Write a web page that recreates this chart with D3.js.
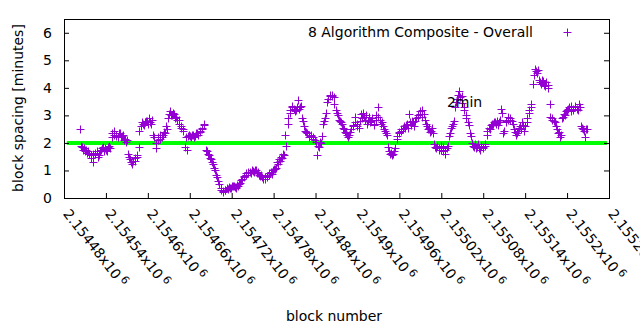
<!DOCTYPE html>
<html>
<head>
<meta charset="utf-8">
<script src="https://cdn.jsdelivr.net/npm/d3@7"></script>
<style>
  html, body { margin: 0; padding: 0; background: #fff; }
  svg { display: block; }
  text { font-family: "DejaVu Sans", sans-serif; fill: #000; }
</style>
</head>
<body>
<svg id="chart" width="640" height="330"></svg>
<script>
// ---- data ----
const seriesName = "8 Algorithm Composite - Overall";
const firstBlock = 2154503;   // first plotted block
const blockStep = 3;          // blocks between listed samples
// samples at firstBlock + 3*i
const spacingA = [
  2.5, 1.85, 1.8, 1.75, 1.7, 1.45, 1.3, 1.6, 1.7, 1.55,
  1.75, 1.85, 1.8, 1.7, 1.9, 2.2, 2.45, 2.3, 2.2, 2.35,
  2.25, 2.1, 2.05, 1.6, 1.4, 1.25, 1.35, 1.55, 1.85, 2.6,
  2.7, 2.75, 2.8, 2.9, 2.7, 2.3, 1.8, 2.1, 2.3, 2.2,
  2.4, 2.6, 2.9, 3.15, 3.0, 3.05, 2.95, 2.85, 2.6, 2.5,
  1.85, 1.75, 2.3, 2.2, 2.3, 2.25, 2.35, 2.4, 2.5, 2.65,
  1.75, 1.6, 1.45, 1.3, 1.1, 0.85, 0.6, 0.35, 0.22, 0.3,
  0.35, 0.4, 0.35, 0.42, 0.4, 0.48, 0.5, 0.65, 0.75, 0.85,
  0.9, 0.95, 1.0, 0.95, 1.0, 0.95, 0.8, 0.75, 0.7, 0.8,
  0.85, 0.95, 1.0, 1.05, 1.3, 1.4, 1.5, 1.6, 2.3, 2.7,
  3.1, 3.3, 3.25, 3.2, 3.55, 3.3, 2.9, 2.6, 2.4, 2.3,
  2.25, 2.15, 2.1, 1.55, 1.85, 2.0, 2.7, 2.9, 3.5, 3.75,
  3.7, 3.65, 3.2, 3.0, 2.8, 2.7, 2.5, 2.35, 2.2, 2.4,
  2.6, 2.95, 2.7, 2.55, 3.05, 3.1, 2.85, 2.7, 2.95, 2.8,
  2.65, 3.0, 3.3, 2.85, 2.75, 2.5, 2.35, 1.85, 1.6, 1.55,
  1.7, 2.15, 2.35, 2.45, 2.5, 2.55, 2.7, 3.05, 2.65, 2.75,
  2.8, 3.0, 3.15, 3.2, 3.05, 2.7, 2.5, 2.4, 2.55, 1.95,
  1.8, 1.75, 1.9, 1.7, 1.6, 1.8, 2.25, 2.55, 2.7, 3.3,
  3.6, 3.9, 3.7, 3.2, 3.0, 2.75, 2.35, 2.0, 1.85, 1.8,
  1.95, 1.75, 1.85, 1.9, 2.3, 2.55, 2.65, 2.7, 2.75, 2.8,
  2.75, 3.25, 2.35, 2.8, 2.95, 2.85, 2.8, 2.5, 2.3, 2.45,
  2.6, 2.75, 2.45, 2.9, 3.2, 3.4, 4.15, 4.7, 4.55, 4.3,
  4.15, 4.25, 4.05, 4.1, 3.4, 2.9, 2.8, 2.6, 2.35, 2.2,
  2.9, 3.05, 3.15, 3.25, 3.35, 3.2, 3.3, 3.25, 3.4, 2.6,
  2.5, 2.2, 2.5
];
// samples at firstBlock + 3*i + 1
const spacingB = [
  1.9,
  1.75, 1.7, 1.65, 1.6, 1.55, 1.6, 1.65, 1.5, 1.7, 1.8, 1.7, 1.75, 1.85, 1.8,
  2.35, 2.3, 2.25, 2.35, 2.2, 2.3, 2.15, 2.1,
  1.5, 1.3, 1.35, 1.45, 1.5, 2.45,
  2.75, 2.65, 2.8, 2.7, 2.75, 2.85, 2.2,
  2.0, 2.2, 2.15, 2.3, 2.35, 2.5,
  3.05, 3.0, 3.1, 2.9, 2.85, 2.7, 2.55, 2.45,
  2.2, 2.25, 2.25, 2.3, 2.2, 2.35, 2.3, 2.45, 2.55, 2.7,
  1.7, 1.55, 1.4, 1.25, 1.0, 0.75, 0.5, 0.3, 0.25,
  0.28, 0.32, 0.38, 0.42, 0.45, 0.38, 0.45, 0.55, 0.7, 0.8, 0.9, 0.95, 0.92, 0.98, 1.0,
  0.9, 0.85, 0.85, 0.7, 0.75, 0.78, 0.9, 0.88, 1.05, 1.1, 1.25, 1.35, 1.45, 1.55,
  1.9, 2.9, 3.2, 3.35, 3.15, 3.3, 3.25, 3.35, 2.8, 2.45, 2.35, 2.2, 2.3, 2.2, 2.05,
  1.9, 2.05, 2.25, 2.8, 3.1, 3.6, 3.7, 3.75, 3.4, 3.1, 2.85, 2.75, 2.55, 2.4, 2.3,
  2.3, 2.5, 2.65, 2.75, 2.6, 2.8, 2.9, 2.95, 3.0, 2.8, 2.75, 2.9, 2.7, 2.85, 2.95, 2.7, 2.6, 2.45, 2.3,
  1.7, 1.65, 1.6, 1.8,
  2.25, 2.4, 2.5, 2.6, 2.65, 2.55, 2.75, 2.8, 2.6, 2.9, 2.95, 3.05, 2.95, 2.85, 2.6, 2.55, 2.45, 2.35,
  1.85, 1.9, 1.8, 1.75, 1.85, 1.75, 1.9,
  2.35, 2.6, 2.8, 3.5, 3.75, 3.65, 3.45, 3.3, 2.9, 2.65, 2.25,
  1.9, 1.95, 1.85, 1.8, 1.9, 1.8, 1.95,
  2.45, 2.5, 2.7, 2.75, 2.7, 2.65, 2.85, 3.1, 2.45, 2.75, 2.85, 2.9, 2.7, 2.4, 2.35, 2.55, 2.5, 2.65, 2.6,
  2.75, 3.1, 3.3, 4.45, 4.6, 4.65, 4.2, 4.3, 4.1, 4.2, 4.0,
  2.95, 2.85, 2.75, 2.5, 2.4, 2.3,
  2.95, 3.0, 3.2, 3.3, 3.15, 3.25, 3.35, 3.2, 3.3,
  2.55, 2.45, 2.5
];
const targetBlocks = [2154484, 2155257];
const targetValue = 2;
const targetLabel = "2min";
const targetLabelBlock = 2155028;
const targetLabelValue = 3.5;
const xTickMantissas = ["2.15448","2.15454","2.1546","2.15466","2.15472","2.15478","2.15484",
                        "2.1549","2.15496","2.15502","2.15508","2.15514","2.1552","2.15526"];
const xTickExponent = "6";
const yTicks = [0, 1, 2, 3, 4, 5, 6];
const xTitle = "block number";
const yTitle = "block spacing [minutes]";

// ---- chart ----
const svg = d3.select("#chart");
const L = 64, R = 609, T = 19, B = 198;
const xTickValues = xTickMantissas.map(m => Math.round(+m * 1e6));
const x = d3.scaleLinear().domain([xTickValues[0], xTickValues[xTickValues.length - 1]]).range([L, R]);
const y = d3.scaleLinear().domain([0, 6.5]).range([B, T]);
const purple = "#9400d3";

const points = spacingA.map((v, i) => ({ block: firstBlock + i * blockStep, v }))
  .concat(spacingB.map((v, i) => ({ block: firstBlock + i * blockStep + 1, v })))
  .sort((a, b) => a.block - b.block);

// target line
svg.append("line")
  .attr("x1", x(targetBlocks[0])).attr("x2", x(targetBlocks[1]))
  .attr("y1", y(targetValue)).attr("y2", y(targetValue))
  .attr("stroke", "#00ff00").attr("stroke-width", 4);

// points
const plus = "M-4,0H4M0,-4V4";
svg.append("g").selectAll("path").data(points).join("path")
  .attr("transform", d => `translate(${Math.round(x(d.block)) + 0.5},${Math.round(y(d.v)) + 0.5})`)
  .attr("d", plus).attr("stroke", purple).attr("stroke-width", 1).attr("fill", "none");

// axes
const gl = svg.append("g").attr("transform", `translate(${L},0)`)
  .call(d3.axisLeft(y).tickValues(yTicks).tickSize(-5).tickPadding(12).tickFormat(d3.format("d")));
gl.select(".domain").remove();
gl.selectAll("text").style("font-size", "14px").attr("font-family", null);

const gr = svg.append("g").attr("transform", `translate(${R},0)`)
  .call(d3.axisRight(y).tickValues(yTicks).tickSize(-5).tickFormat(""));
gr.select(".domain").remove();

const gb = svg.append("g").attr("transform", `translate(0,${B})`)
  .call(d3.axisBottom(x).tickValues(xTickValues).tickSize(-5).tickFormat((d, i) => xTickMantissas[i]));
gb.select(".domain").remove();
gb.selectAll(".tick text").each(function(d, i) {
  const t = d3.select(this);
  t.text(null).attr("y", 0).attr("dy", null).attr("x", 0)
   .attr("text-anchor", "start").attr("font-family", null)
   .style("font-size", "14px")
   .attr("transform", "translate(-2,16) rotate(52)");
  t.append("tspan").text(xTickMantissas[i] + "x10");
  t.append("tspan").attr("dx", 3).attr("dy", -5).style("font-size", "11px").text(xTickExponent);
});
svg.selectAll(".tick line").attr("stroke", "#000");

// border
svg.append("rect").attr("x", L + 0.5).attr("y", T + 0.5).attr("width", R - L).attr("height", B - T)
  .attr("fill", "none").attr("stroke", "#000").attr("stroke-width", 1);

// titles
svg.append("text").attr("transform", "translate(18,108) rotate(-90)")
  .attr("text-anchor", "middle").attr("dominant-baseline", "central")
  .style("font-size", "14px").text(yTitle);
svg.append("text").attr("x", 334).attr("y", 321).attr("text-anchor", "middle")
  .style("font-size", "14px").text(xTitle);

// label
svg.append("text").attr("x", x(targetLabelBlock)).attr("y", y(targetLabelValue))
  .attr("dominant-baseline", "central").style("font-size", "14px").text(targetLabel);

// legend
svg.append("text").attr("x", 533).attr("y", 37).attr("text-anchor", "end")
  .style("font-size", "14px").text(seriesName);
svg.append("path").attr("transform", "translate(567.5,32.5)").attr("d", plus)
  .attr("stroke", purple).attr("fill", "none");
</script>
</body>
</html>
